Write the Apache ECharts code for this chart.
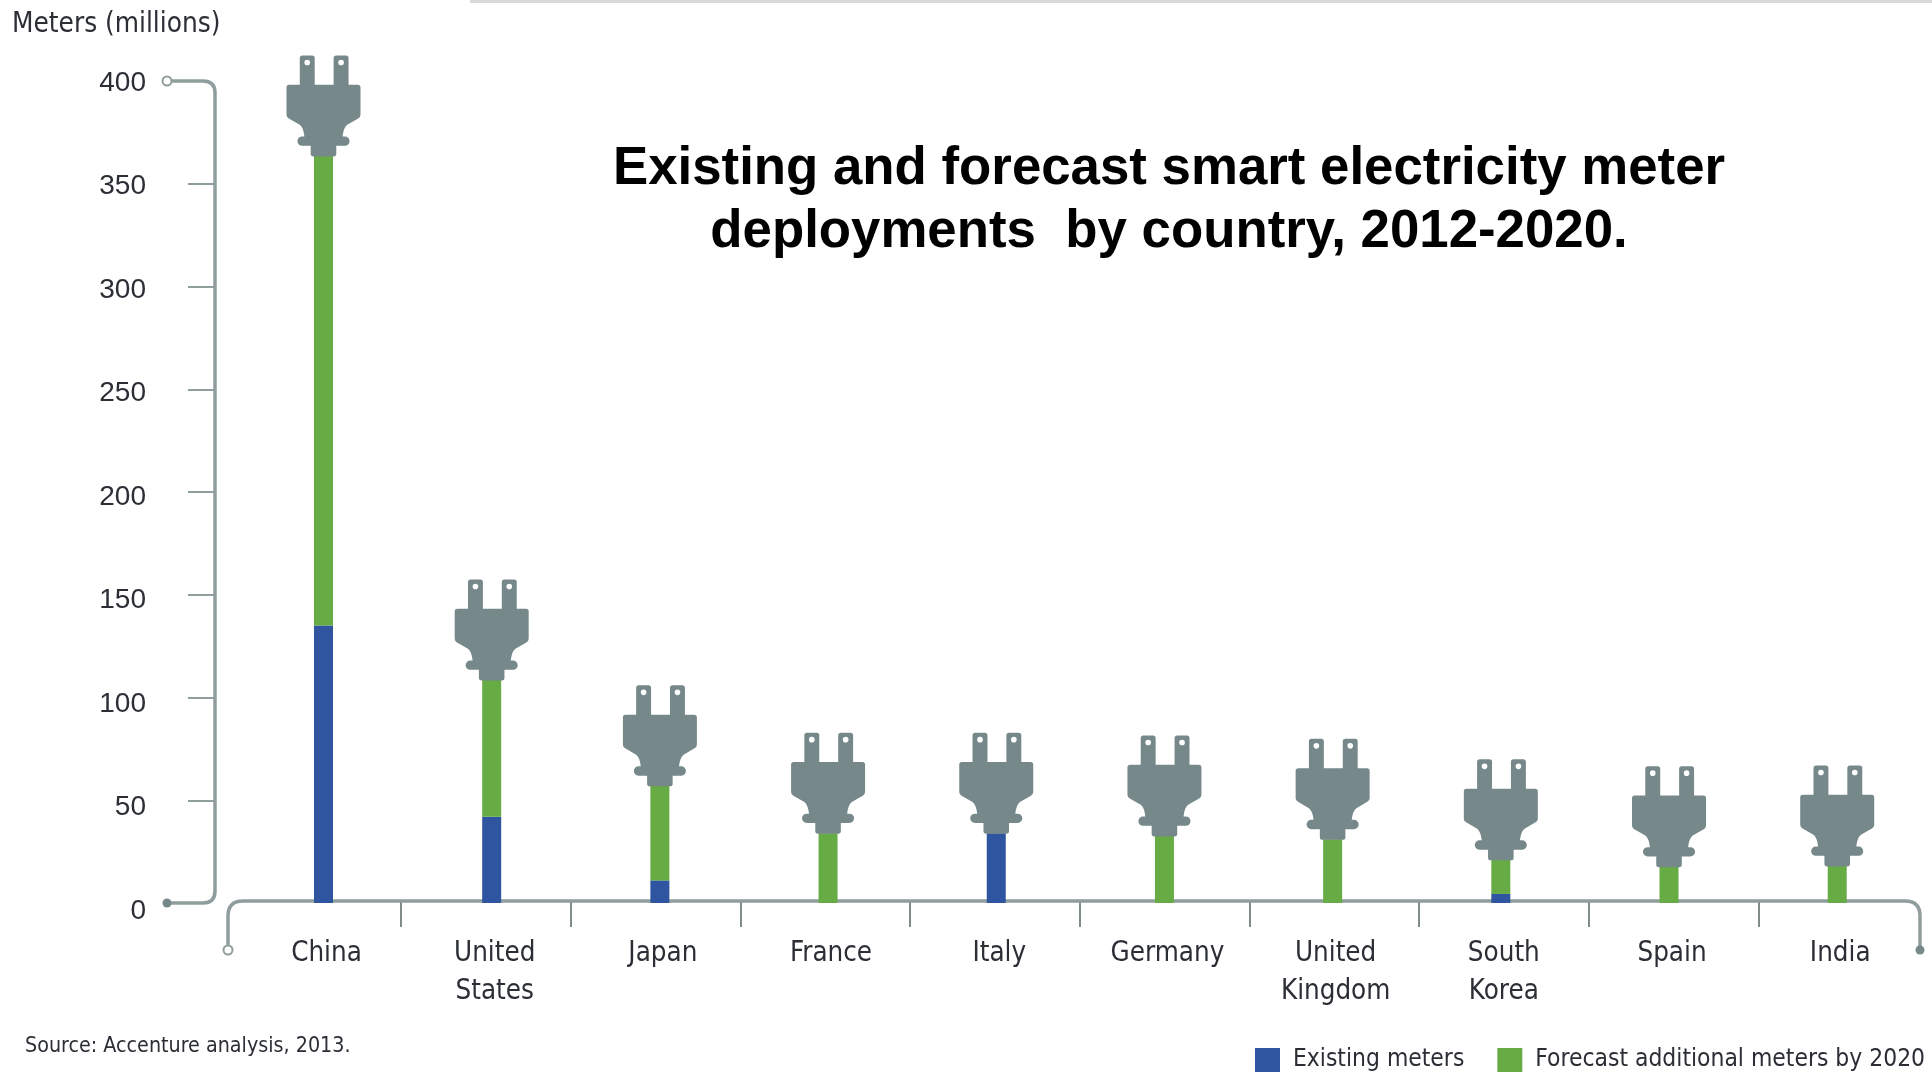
<!DOCTYPE html>
<html>
<head>
<meta charset="utf-8">
<style>html,body{margin:0;padding:0;background:#fff}#chart{width:1932px;height:1074px}</style>
<script src="https://cdn.jsdelivr.net/npm/echarts@6/dist/echarts.min.js"></script>
</head>
<body>
<div id="chart"></div>
<script>
// Smart meter deployments per country, in millions of meters
const countries = ['China', 'United\nStates', 'Japan', 'France', 'Italy', 'Germany', 'United\nKingdom', 'South\nKorea', 'Spain', 'India'];
const existingMeters = [135, 42, 11, 0, 34, 0, 0, 4.4, 0, 0];
const forecastMeters = [228.5, 66.5, 46, 34, 0, 32.6, 31, 16.6, 17.7, 18];
const totals = existingMeters.map((v, i) => v + forecastMeters[i]);
const yTickValues = [50, 100, 150, 200, 250, 300, 350];

const BLUE = '#2f55a0', GREEN = '#66ab44', PLUG = '#76888a', AXIS = '#8f9e9c', INK = '#2b2f35';
const NARROW = '"DejaVu Sans Condensed","Liberation Sans",sans-serif';
const SANS = '"Liberation Sans",Arial,sans-serif';

// Plug outline with two pin holes, cut out by their reversed winding
const plugPath = 'path://M40 8Q40 0 48 0L77 0Q85 0 85 8L85 88L142 88L142 8Q142 0 150 0L179 0Q187 0 187 8L187 88L215 88Q223 88 223 96L223 178Q223 185 216 189L183 208Q172 216 169 243L176 243A14 14 0 0 1 176 271L150 271L150 295Q150 303 142 303L81 303Q73 303 73 295L73 271L47 271A14 14 0 0 1 47 243L54 243Q51 216 40 208L7 189Q0 185 0 178L0 96Q0 88 8 88L40 88Z'
  + 'M54 21A8.5 8.5 0 0 0 71 21A8.5 8.5 0 0 0 54 21Z'
  + 'M156 21A8.5 8.5 0 0 0 173 21A8.5 8.5 0 0 0 156 21Z';

const chart = echarts.init(document.getElementById('chart'), null, { renderer: 'canvas' });

const hiddenAxis = { show: false };
const CAP_Y = 950;          // end of the down-turned x axis line
const X_AXIS_LIFT = 2;      // x axis line sits just above the zero level

// Rounded axis lines with their end caps, placed from the value scale
function renderAxisFrame(params, api) {
  const y400 = api.coord([0, 400])[1];
  const y0 = api.coord([0, 0])[1];
  const ya = y0 - X_AXIS_LIFT;
  const stroke = { stroke: AXIS, lineWidth: 3.5, fill: null };
  const cap = (cx, cy, open) => ({
    type: 'circle', shape: { cx, cy, r: 4.5 },
    style: open ? { fill: '#fff', stroke: AXIS, lineWidth: 2 } : { fill: PLUG }
  });
  return {
    type: 'group',
    children: [
      {
        type: 'path',
        shape: {
          pathData: `M167 ${y400}L203 ${y400}Q215 ${y400} 215 ${y400 + 12}L215 ${y0 - 12}Q215 ${y0} 203 ${y0}L167 ${y0}`,
          layout: 'cover', x: 167, y: y400, width: 48, height: y0 - y400
        },
        style: stroke
      },
      cap(167, y400, true),
      cap(167, y0, false),
      {
        type: 'path',
        shape: {
          pathData: `M228 ${CAP_Y}L228 ${ya + 15}Q228 ${ya} 243 ${ya}L1905 ${ya}Q1920 ${ya} 1920 ${ya + 15}L1920 ${CAP_Y}`,
          layout: 'cover', x: 228, y: ya, width: 1692, height: CAP_Y - ya
        },
        style: stroke
      },
      cap(228, CAP_Y, true),
      cap(1920, CAP_Y, false)
    ]
  };
}

chart.setOption({
  animation: false,
  backgroundColor: '#ffffff',
  title: [
    {
      text: 'Existing and forecast smart electricity meter\ndeployments  by country, 2012-2020.',
      left: 1164, top: 133, textAlign: 'center',
      textStyle: { fontFamily: SANS, fontWeight: 'bold', fontSize: 52.8, lineHeight: 63, color: '#000' }
    },
    {
      text: 'Meters (millions)', left: 12, top: 11, padding: 0,
      textStyle: { fontFamily: NARROW, fontWeight: 'normal', fontSize: 27.7, color: INK }
    },
    {
      text: 'Source: Accenture analysis, 2013.', left: 25, top: 1036, padding: 0,
      textStyle: { fontFamily: NARROW, fontWeight: 'normal', fontSize: 21.3, color: INK }
    }
  ],
  legend: {
    left: 1255, top: 1048, padding: 0, itemWidth: 25, itemHeight: 24, itemGap: 33,
    icon: 'rect', selectedMode: false,
    data: ['Existing meters', 'Forecast additional meters by 2020'],
    textStyle: { fontFamily: NARROW, fontSize: 24.4, color: INK, padding: [10, 0, 0, 8] }
  },
  grid: [
    { left: 239.4, width: 1681.9, top: 81, height: 822 },   // marks and country labels
    { left: 401, width: 1357.6, top: 81, height: 820 },     // separators between countries
    { left: 215, width: 1000, top: 83, height: 828 }        // value labels
  ],
  xAxis: [
    {
      type: 'category', gridIndex: 0, data: countries,
      axisLine: { show: false }, axisTick: { show: false },
      axisLabel: {
        interval: 0, margin: 32, padding: [0, 0, 0, 6], verticalAlign: 'top',
        fontFamily: NARROW, fontSize: 27.5, lineHeight: 38, color: INK
      }
    },
    {
      type: 'value', gridIndex: 1, min: 0, max: 8, interval: 1,
      axisLine: { show: false }, splitLine: { show: false }, axisLabel: { show: false },
      axisTick: { show: true, length: 26, lineStyle: { color: '#7f8c8a', width: 2 } }
    },
    { type: 'value', gridIndex: 2, min: 0, max: 1, ...hiddenAxis }
  ],
  yAxis: [
    {
      type: 'value', gridIndex: 0, min: 0, max: 400, interval: 50, offset: 24.4,
      axisLine: { show: false }, splitLine: { show: false }, axisLabel: { show: false },
      axisTick: { show: true, length: 27, customValues: yTickValues, lineStyle: { color: AXIS, width: 2 } }
    },
    { type: 'value', gridIndex: 1, min: 0, max: 1, ...hiddenAxis },
    {
      type: 'value', gridIndex: 2, min: 0, max: 400, interval: 50,
      axisLine: { show: false }, axisTick: { show: false }, splitLine: { show: false },
      axisLabel: { margin: 69, fontFamily: SANS, fontSize: 28, color: INK }
    }
  ],
  series: [
    {
      name: 'Axis frame', type: 'custom', xAxisIndex: 0, yAxisIndex: 0, z: 1, silent: true, clip: false,
      data: [0], renderItem: renderAxisFrame
    },
    {
      name: 'Existing meters', type: 'bar', stack: 'meters', barWidth: 19, z: 3,
      data: existingMeters, itemStyle: { color: BLUE }
    },
    {
      name: 'Forecast additional meters by 2020', type: 'bar', stack: 'meters', barWidth: 19, z: 3,
      data: forecastMeters, itemStyle: { color: GREEN }
    },
    {
      name: 'Plug', type: 'scatter', z: 4, data: totals, symbol: plugPath,
      symbolSize: [74, 101], symbolOffset: [0, -50], itemStyle: { color: PLUG, opacity: 1 }, clip: false
    }
  ],
  graphic: [
    { type: 'rect', z: 1, shape: { x: 470, y: 0, width: 1462, height: 3 }, style: { fill: '#d8d8d8' } }
  ]
});
</script>
</body>
</html>
